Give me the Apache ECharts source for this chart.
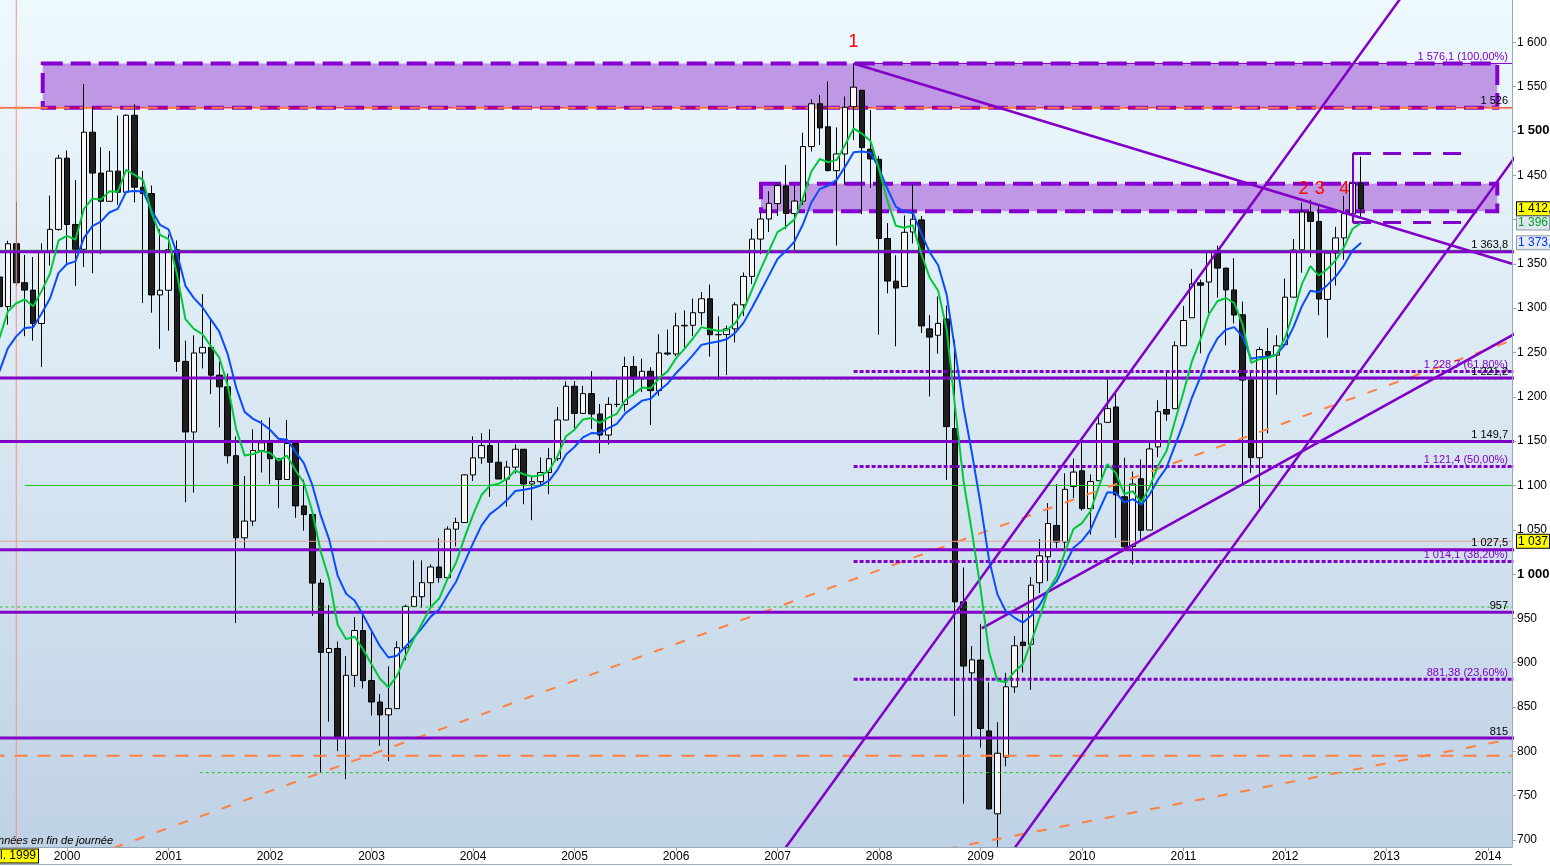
<!DOCTYPE html>
<html><head><meta charset="utf-8">
<script src="https://cdn.jsdelivr.net/npm/echarts@6/dist/echarts.min.js"></script>
<style>html,body{margin:0;padding:0;background:#fff;overflow:hidden}#c{width:1550px;height:866px}</style>
</head><body><div id="c"></div>
<script>
// ---- S&P 500 monthly candles, index 0 = May 1999 ... 161 = Oct 2012 ----
const open = [1335.18,1301.84,1372.71,1328.72,1320.41,1282.71,1362.93,1388.91,
1469.25,1394.46,1366.42,1498.58,1452.43,1420.60,1454.60,1430.83,1517.68,1436.51,1429.40,1314.95,
1320.28,1366.01,1239.94,1160.33,1249.46,1255.82,1224.42,1211.23,1133.58,1040.94,1059.78,1139.45,
1148.08,1130.20,1106.73,1147.39,1076.92,1067.14,989.82,911.62,916.07,815.28,885.76,936.31,
879.82,855.70,841.15,848.18,916.92,963.59,974.50,990.31,1008.01,995.97,1050.71,1058.20,
1111.92,1131.13,1144.94,1126.21,1107.30,1120.68,1140.84,1101.72,1104.24,1114.58,1130.20,1173.82,
1211.92,1181.27,1203.60,1180.59,1156.85,1191.50,1191.33,1234.18,1220.33,1228.81,1207.01,1249.48,
1248.29,1280.08,1280.66,1294.87,1310.61,1270.09,1270.20,1276.66,1303.82,1335.85,1377.94,1400.63,
1418.03,1437.90,1406.80,1420.83,1482.37,1530.62,1504.66,1455.18,1473.96,1527.29,1545.79,1479.37,
1467.97,1378.60,1330.45,1324.39,1385.97,1399.62,1276.69,1269.42,1287.83,1164.17,968.67,888.61,
902.99,823.09,729.57,793.59,872.74,923.26,920.82,990.22,1019.52,1054.91,1036.18,1098.89,
1116.56,1073.89,1105.36,1171.23,1188.58,1087.30,1031.10,1107.53,1049.72,1143.49,1185.71,1186.60,
1257.62,1289.14,1328.64,1329.48,1365.21,1345.20,1320.64,1292.59,1219.12,1131.21,1251.00,1246.91,
1258.86,1312.45,1365.90,1408.47,1397.86,1309.87,1362.33,1379.32,1406.54,1440.90];
const high = [1375.98,1376.00,1420.33,1360.00,1357.74,1373.17,1427.00,1473.10,
1478.00,1444.55,1552.87,1527.19,1481.51,1477.26,1517.32,1518.53,1530.09,1454.82,1438.46,1389.06,
1383.37,1376.38,1263.47,1269.30,1315.93,1286.62,1239.78,1226.27,1155.40,1110.61,1163.38,1173.62,
1176.55,1130.20,1173.94,1147.84,1106.59,1070.74,994.46,965.00,924.02,907.44,951.57,954.28,
935.05,864.64,895.90,924.24,965.38,1015.33,1015.41,1011.01,1040.29,1053.79,1063.65,1112.56,
1155.38,1158.98,1163.23,1150.57,1127.74,1146.34,1140.84,1109.68,1131.54,1142.05,1188.46,1217.33,
1217.80,1212.44,1229.11,1191.88,1199.56,1219.59,1245.15,1245.86,1243.13,1233.34,1270.64,1275.80,
1294.90,1297.57,1310.88,1318.16,1326.70,1290.68,1280.42,1306.74,1340.28,1389.45,1407.89,1431.81,
1441.61,1461.57,1438.89,1498.02,1535.56,1540.56,1555.90,1503.89,1538.74,1576.09,1545.79,1523.57,
1471.77,1396.02,1359.68,1404.57,1440.24,1404.05,1292.17,1313.15,1303.04,1264.28,1007.51,918.85,
943.85,877.86,832.98,888.70,930.17,956.23,996.68,1039.47,1080.15,1101.36,1113.69,1130.38,
1150.45,1112.42,1180.16,1219.80,1205.13,1131.23,1115.79,1129.24,1148.90,1196.14,1227.08,1262.60,
1302.67,1344.07,1332.28,1364.56,1370.58,1345.20,1356.48,1307.38,1229.29,1256.55,1277.55,1269.37,
1333.47,1378.04,1419.15,1422.38,1415.32,1363.46,1391.74,1426.68,1474.51,1470.96];
const low = [1277.30,1281.41,1325.09,1268.37,1263.30,1233.70,1348.00,1387.38,
1350.14,1325.07,1346.62,1339.40,1361.09,1420.60,1416.54,1431.00,1419.44,1305.79,1294.90,1254.07,
1274.62,1228.33,1081.19,1091.99,1232.00,1203.03,1165.54,1124.87,944.75,1026.76,1054.31,1114.53,
1101.72,1074.36,1106.73,1063.46,1048.96,952.92,775.68,833.44,800.20,768.63,872.66,870.94,
840.34,806.29,788.90,847.85,902.83,963.59,962.10,960.84,990.36,995.97,1031.20,1058.20,
1105.08,1124.44,1087.16,1107.23,1076.32,1113.32,1078.78,1060.72,1099.18,1090.19,1127.60,1173.76,
1163.75,1180.95,1163.69,1136.15,1146.18,1188.30,1183.55,1201.07,1205.35,1168.20,1201.07,1246.59,
1245.74,1253.61,1268.42,1280.74,1245.34,1219.29,1224.54,1261.30,1291.14,1327.10,1360.98,1385.93,
1403.97,1389.42,1363.98,1416.37,1476.70,1484.18,1454.25,1370.60,1439.29,1489.56,1406.10,1435.65,
1270.05,1316.75,1256.98,1324.35,1373.07,1272.00,1200.44,1248.64,1106.42,839.80,741.02,815.69,
804.30,734.52,666.79,783.32,866.10,888.86,869.32,978.51,991.97,1029.38,1029.38,1085.89,
1071.59,1044.50,1105.36,1170.69,1040.78,1028.33,1010.91,1039.70,1049.72,1131.87,1173.00,1186.60,
1257.62,1289.14,1249.05,1294.70,1311.80,1258.07,1282.86,1101.54,1114.22,1074.77,1158.66,1202.37,
1258.86,1312.45,1340.03,1357.38,1291.98,1266.74,1325.41,1354.65,1396.56,1403.28];
const close = [1301.84,1372.71,1328.72,1320.41,1282.71,1362.93,1388.91,1469.25,
1394.46,1366.42,1498.58,1452.43,1420.60,1454.60,1430.83,1517.68,1436.51,1429.40,1314.95,1320.28,
1366.01,1239.94,1160.33,1249.46,1255.82,1224.42,1211.23,1133.58,1040.94,1059.78,1139.45,1148.08,
1130.20,1106.73,1147.39,1076.92,1067.14,989.82,911.62,916.07,815.28,885.76,936.31,879.82,
855.70,841.15,848.18,916.92,963.59,974.50,990.31,1008.01,995.97,1050.71,1058.20,1111.92,
1131.13,1144.94,1126.21,1107.30,1120.68,1140.84,1101.72,1104.24,1114.58,1130.20,1173.82,1211.92,
1181.27,1203.60,1180.59,1156.85,1191.50,1191.33,1234.18,1220.33,1228.81,1207.01,1249.48,1248.29,
1280.08,1280.66,1294.87,1310.61,1270.09,1270.20,1276.66,1303.82,1335.85,1377.94,1400.63,1418.30,
1438.24,1406.82,1420.86,1482.37,1530.62,1503.35,1455.27,1473.99,1526.75,1549.38,1481.14,1468.36,
1378.55,1330.63,1322.70,1385.59,1400.38,1280.00,1267.38,1282.83,1166.36,968.75,896.24,903.25,
825.88,735.09,797.87,872.81,919.14,919.32,987.48,1020.62,1057.08,1036.19,1095.63,1115.10,
1073.87,1104.49,1169.43,1186.69,1089.41,1030.71,1101.60,1049.33,1141.20,1183.26,1180.55,1257.64,
1286.12,1327.22,1325.83,1363.61,1345.20,1320.64,1292.28,1218.89,1131.42,1253.30,1246.96,1257.60,
1312.41,1365.68,1408.47,1397.91,1310.33,1362.16,1379.32,1406.58,1440.67,1412.16];
// green moving average
const maGreen = [1265.8,1296.3,1305.6,1309.8,1302.1,1319.5,1339.3,1376.4,1381.6,1377.3,
1412.0,1423.5,1422.7,1431.8,1431.5,1456.1,1450.5,1444.5,1407.5,1382.6,
1377.9,1338.5,1287.6,1276.7,1270.7,1257.5,1244.3,1212.7,1163.6,1133.9,
1135.5,1139.1,1136.6,1128.1,1133.6,1117.4,1103.0,1070.7,1025.2,994.0,
942.9,926.6,929.4,915.2,898.2,881.9,872.3,885.0,907.5,926.6,
944.8,962.9,972.4,994.8,1012.9,1041.2,1066.9,1089.2,1099.8,1101.9,
1107.3,1116.9,1112.6,1110.2,1111.5,1116.8,1133.1,1155.6,1162.9,1174.5,
1176.2,1170.7,1176.6,1180.8,1196.1,1203.0,1210.4,1209.4,1220.9,1228.7,
1243.4,1254.1,1265.8,1278.6,1276.2,1274.5,1275.1,1283.3,1298.3,1321.0,
1343.7,1365.0,1385.9,1391.9,1400.2,1423.7,1454.2,1468.3,1464.6,1467.3,
1484.3,1502.9,1496.7,1488.6,1457.1,1421.0,1392.9,1390.8,1393.5,1361.1,
1334.3,1319.6,1275.8,1188.1,1104.7,1047.1,983.9,912.8,880.0,877.9,
889.7,898.2,923.7,951.4,981.6,997.2,1025.3,1051.0,1057.5,1070.9,
1099.0,1124.1,1114.2,1090.3,1093.5,1080.9,1098.1,1122.4,1139.0,1172.9,
1205.2,1240.1,1264.6,1292.9,1307.8,1311.5,1306.0,1281.1,1238.3,1242.6,
1243.9,1247.8,1266.3,1294.7,1327.2,1347.4,1336.8,1344.1,1354.2,1369.2,
1389.6,1396.1];
// blue moving average
const maBlue = [1228.5,1254.7,1268.2,1277.7,1278.6,1293.9,1311.2,1339.9,1349.8,1352.8,
1379.3,1392.6,1397.7,1408.0,1412.1,1431.3,1432.2,1431.7,1410.5,1394.1,
1389.0,1361.9,1325.2,1311.4,1301.3,1287.3,1273.5,1248.1,1210.4,1183.0,
1175.1,1170.2,1162.9,1152.7,1151.7,1138.1,1125.2,1100.6,1066.2,1038.9,
998.2,977.8,970.3,953.8,936.0,918.7,905.9,907.9,918.0,928.3,
939.6,952.0,960.0,976.5,991.4,1013.3,1034.7,1054.7,1067.7,1074.9,
1083.2,1093.7,1095.2,1096.8,1100.0,1105.5,1117.9,1135.0,1143.4,1154.3,
1159.1,1158.7,1164.7,1169.5,1181.3,1188.4,1195.7,1197.8,1207.2,1214.7,
1226.6,1236.4,1247.0,1258.6,1260.7,1262.4,1265.0,1272.1,1283.7,1300.8,
1318.9,1337.0,1355.4,1364.7,1374.9,1394.4,1419.2,1434.5,1438.3,1444.8,
1459.7,1476.0,1476.9,1475.4,1457.8,1434.7,1414.3,1409.1,1407.5,1384.3,
1363.0,1348.4,1315.3,1252.3,1187.6,1135.9,1079.5,1016.9,977.1,958.1,
951.0,945.2,952.9,965.2,981.9,991.8,1010.7,1029.7,1037.7,1049.8,
1071.5,1092.4,1091.9,1080.8,1084.6,1078.2,1089.7,1106.7,1120.1,1145.1,
1170.7,1199.2,1222.2,1247.9,1265.6,1275.6,1278.6,1267.7,1242.9,1244.8,
1245.2,1247.5,1259.3,1278.6,1302.2,1319.6,1317.9,1326.0,1335.7,1348.6,
1365.3,1373.8];

// axis ticks
const yearLabels = ['2000','2001','2002','2003','2004','2005','2006','2007','2008','2009','2010','2011','2012','2013','2014'];
const yearTickIndex = [8,20,32,44,56,68,80,92,104,116,128,140,152,164,176];
const priceTicks = [700,750,800,850,900,950,1000,1050,1100,1150,1200,1250,1300,1350,1400,1450,1500,1550,1600,1650];
const XMIN = 0.078, XMAX = 178.84, YMIN = 692.1, YMAX = 1647.7;

// horizontal levels
const purpleLevels = [1363.8, 1221.2, 1149.7, 1027.5, 957, 815];
const fibStart = 101;
const fibTop = 1576.1;
const fibLevels = [1228.7, 1121.4, 1014.1, 881.38];
const resistance = 1526;
const greenLevels = [1365.3, 1100, 1220, 962.9, 776];
const greenStarts = [0, 3, 56.8, 0, 23.7];
const greenDashed = [false, false, true, true, true];
const orangeLevel = 795;
const crossX = 2, crossY = 1037;

// trend lines (index, value)
const downTrend = [[101, 1576.1], [178.84, 1350.1]];
const channelA = [[92, 678.7], [167, 1667.2]];
const channelB = [[119, 677.3], [180, 1481.3]];
const supportD = [[116.15, 938.8], [180, 1275.5]];
const orangeA = [[13.5, 691], [180, 1267.7]];
const orangeB = [[112, 690], [180, 816.1]];

// zones
const zoneX0 = [5.13, 90.05], zoneX1 = [177.1, 177.1];
const zoneTop = [1576.1, 1440.3], zoneBottom = [1526.2, 1409.3];
const boxX0 = 160.05, boxX1 = 172.9, boxTop = 1474.5, boxBottom = 1396.6;

// texts
const levelText = ['1 576,1 (100,00%)','1 526','1 363,8','1 228,7 (61,80%)','1 221,2','1 149,7','1 121,4 (50,00%)','1 027,5','1 014,1 (38,20%)','957','881,38 (23,60%)','815'];
const levelValue = [1576.1,1526,1363.8,1228.7,1221.2,1149.7,1121.4,1027.5,1014.1,957,881.38,815];
const levelIsFib = [true,false,false,true,false,false,true,false,true,false,true,false];
const labelX = 178.37;
const markText = ['1','2','3','4'];
const markX = [101, 154.2, 156.1, 159.0];
const markY = [1600, 1434, 1434, 1434];
const tagValue = [1412.16, 1396.1, 1373.8, 1037];
const tagText = ['1 412,1', '1 396', '1 373,8', '1 037'];

const FONT = '"Liberation Sans", Arial, sans-serif';
const PURPLE = '#8000c8';
const chart = echarts.init(document.getElementById('c'));

function seg(pts, color, width, type, z) {
  return {type:'line', data: pts, symbol:'none', showSymbol:false, silent:true, clip:true,
    z: z || 4, animation:false, lineStyle:{color: color, width: width, type: type || 'solid', cap:'butt'}};
}
const series = [];
// zones
series.push({type:'custom', z:1, silent:true, clip:true, animation:false,
  encode:{x:[0,1], y:[2,3]},
  data: zoneX0.map((x0,k)=>[x0, zoneX1[k], zoneTop[k], zoneBottom[k]]),
  renderItem: function(params, api){
    const p0 = api.coord([api.value(0), api.value(2)]);
    const p1 = api.coord([api.value(1), api.value(3)]);
    return {type:'rect', shape:{x:p0[0], y:p0[1], width:p1[0]-p0[0], height:p1[1]-p0[1]},
      style:{fill:'#bf97e4', stroke:'#8500d0', lineWidth:4, lineDash:[20,8]}};
  }});
// red + orange resistance
series.push(seg([[XMIN-1, resistance],[XMAX+1, resistance]], '#ff0000', 1, 'solid', 2));
series.push(seg([[XMIN-1, resistance],[XMAX+1, resistance]], '#ff8040', 2, [12,10], 2));
// candles
series.push({type:'candlestick', z:3, silent:true, animation:false, barWidth:6,
  encode:{x:0, y:[1,2,3,4]},
  data: open.map((o,i)=>[i, o, close[i], low[i], high[i]]),
  itemStyle:{color:'#f6f6f6', color0:'#1e1e1e', borderColor:'#000', borderColor0:'#000', borderColorDoji:'#000', borderWidth:1}});
// green thin levels
greenLevels.forEach((v,k)=>series.push(seg([[greenStarts[k], v],[XMAX+1, v]], '#22c022', 1, greenDashed[k] ? [3,3] : 'solid', 4)));
// orange horizontal
series.push(seg([[XMIN-1, orangeLevel],[XMAX+1, orangeLevel]], '#ff8040', 2, [13,10], 4));
// orange trend lines
series.push(seg(orangeA, '#ff8040', 2, [10,13], 4));
series.push(seg(orangeB, '#ff8040', 2, [10,13], 4));
// crosshair
series.push(seg([[crossX, YMIN-5],[crossX, YMAX+5]], '#ff8c8c', 1, 'solid', 4));
series.push(seg([[XMIN-1, crossY],[XMAX+1, crossY]], '#e3a0a0', 1, 'solid', 4));
// purple horizontal levels
purpleLevels.forEach(v=>series.push(seg([[XMIN-1, v],[XMAX+1, v]], PURPLE, 3, 'solid', 5)));
// fib
series.push(seg([[fibStart, fibTop],[XMAX+1, fibTop]], PURPLE, 1, 'solid', 5));
fibLevels.forEach(v=>series.push(seg([[fibStart, v],[XMAX+1, v]], PURPLE, 3, [4,2], 5)));
// trend lines
[downTrend, channelA, channelB, supportD].forEach(p=>series.push(seg(p, PURPLE, 2.5, 'solid', 5)));
// Sep 2012 box
series.push(seg([[boxX0, boxTop],[boxX1, boxTop]], PURPLE, 3, [18,12], 5));
series.push(seg([[boxX0, boxBottom],[boxX1, boxBottom]], PURPLE, 3, [18,12], 5));
series.push(seg([[boxX0, boxTop],[boxX0, boxBottom]], PURPLE, 2, 'solid', 5));
// moving averages
series.push(seg(maBlue.map((v,i)=>[i,v]), '#0a4dff', 2, 'solid', 6));
series.push(seg(maGreen.map((v,i)=>[i,v]), '#00c83c', 2, 'solid', 6));
// level labels
series.push({type:'custom', z:8, silent:true, clip:false, animation:false,
  data: levelValue.map(v=>[labelX, v]),
  renderItem: function(params, api){
    const p = api.coord([api.value(0), api.value(1)]);
    const k = params.dataIndex;
    return {type:'text', x:p[0], y:p[1]-1, style:{text: levelText[k], fill: levelIsFib[k] ? PURPLE : '#000',
      font:'11px ' + FONT, align:'right', verticalAlign:'bottom'}};
  }});
// red wave numbers
series.push({type:'custom', z:8, silent:true, clip:false, animation:false,
  data: markX.map((x,k)=>[x, markY[k]]),
  renderItem: function(params, api){
    const p = api.coord([api.value(0), api.value(1)]);
    return {type:'text', x:p[0], y:p[1], style:{text: markText[params.dataIndex], fill:'#ff0000',
      font:'18px ' + FONT, align:'center', verticalAlign:'middle'}};
  }});

const option = {
  animation:false,
  backgroundColor:'#ffffff',
  grid:{left:0, right:38, top:0, bottom:19, show:true, borderWidth:0, containLabel:false, outerBoundsMode:'none',
    backgroundColor: new echarts.graphic.LinearGradient(0,0,0,1,[{offset:0,color:'#eef9fd'},{offset:0.5,color:'#d8e7f2'},{offset:1,color:'#bfd1e4'}])},
  xAxis:{type:'value', min:XMIN, max:XMAX, z:10,
    axisLine:{show:true, onZero:false, lineStyle:{color:'#97a8b8', width:1}},
    axisTick:{show:true, length:4, customValues: yearTickIndex, lineStyle:{color:'#97a8b8'}},
    axisLabel:{customValues: yearTickIndex, margin:4, color:'#000', fontSize:12, fontFamily:FONT,
      formatter: v => yearLabels[yearTickIndex.indexOf(v)]},
    splitLine:{show:false}},
  yAxis:{type:'value', position:'right', min:YMIN, max:YMAX, z:10,
    axisLine:{show:true, onZero:false, lineStyle:{color:'#97a8b8', width:1}},
    axisTick:{show:true, length:4, customValues: priceTicks, lineStyle:{color:'#97a8b8'}},
    axisLabel:{customValues: priceTicks, margin:5, color:'#000', fontSize:12, fontFamily:FONT,
      formatter: v => { const s = v >= 1000 ? Math.floor(v/1000) + ' ' + String(v%1000).padStart(3,'0') : String(v);
        return (v === 1000 || v === 1500) ? '{b|' + s + '}' : s; },
      rich:{b:{fontWeight:'bold', fontSize:13, color:'#000', fontFamily:FONT}}},
    splitLine:{show:false}},
  series: series
};
chart.setOption(option);

const py = v => chart.convertToPixel({gridIndex:0}, [50, v])[1];
const tagStyle = [
  {fill:'#000', bg:'#ffff00', border:'#000'},
  {fill:'#00a020', bg:'#dde6ee', border:'#8a9aaa'},
  {fill:'#0033ff', bg:'#e4ebf3', border:'#8a9aaa'},
  {fill:'#000', bg:'#ffff00', border:'#000'}
];
const graphics = [
  {type:'rect', shape:{x:0, y:848, width:1512, height:18}, style:{fill:'#ffffff'}, z:6, silent:true},
  {type:'line', shape:{x1:0, y1:864.5, x2:1512, y2:864.5}, style:{stroke:'#9aabbb', lineWidth:1}, z:7, silent:true},
  {type:'text', x:113, y:841, z:9, silent:true, style:{text:'Données en fin de journée', fill:'#000', font:'italic 11px ' + FONT, align:'right', verticalAlign:'middle'}},
  {type:'text', x:38, y:856, z:9, silent:true, style:{text:'juil. 1999', fill:'#000', font:'12px ' + FONT, align:'right', verticalAlign:'middle',
     backgroundColor:'#ffff00', borderColor:'#000', borderWidth:1, padding:[1,2,0,2]}}
];
tagValue.forEach((v,k)=>{
  graphics.push({type:'text', x:1517, y:py(v), z:20, silent:true,
    style:{text: tagText[k], fill: tagStyle[k].fill, font:'12px ' + FONT, align:'left', verticalAlign:'middle',
      backgroundColor: tagStyle[k].bg, borderColor: tagStyle[k].border, borderWidth:1, padding:[1,1,0,1]}});
});
chart.setOption({graphic: graphics});
</script>
</body></html>
